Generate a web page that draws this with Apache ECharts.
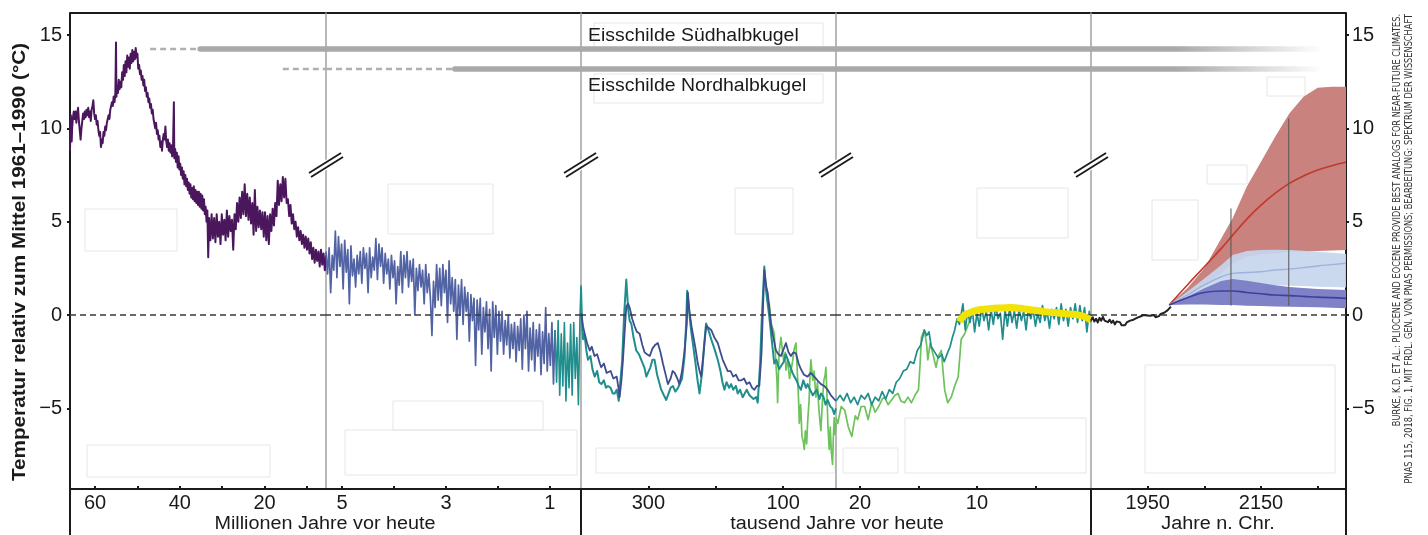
<!DOCTYPE html>
<html lang="de">
<head>
<meta charset="utf-8">
<title>Temperatur der Erde seit 66 Millionen Jahren</title>
<script src="https://cdn.jsdelivr.net/npm/echarts@6.0.0/dist/echarts.min.js"></script>
<style>
  html, body { margin: 0; padding: 0; background: #fff; }
  #chart { width: 1428px; height: 535px; }
</style>
</head>
<body>
<div id="chart"></div>
<script>
// ---- Achsen: fuenf Panels mit eigener Einheit (Ma, Ma, ka, ka, Jahr n. Chr.)
const sectionExtents = [[5.52, 65.9], [0.40, 5.31], [21.5, 400], [0.25, 22.05], [1850, 2300]];
const sectionTicks = [[60, 50, 40, 30, 20, 10], [5, 4, 3, 2, 1], [300, 200, 100], [20, 15, 10, 5], [1950, 2050, 2150, 2250]];
const sectionLabels = [[60, 40, 20], [5, 3, 1], [300, 100], [20, 10], [1950, 2150]];
const unitTitles = ['Millionen Jahre vor heute', 'tausend Jahre vor heute', 'Jahre n. Chr.'];
const tempTicks = [-5, 0, 5, 10, 15];
const tempRange = [-9.32, 16.18];

// ---- Eisschilde (Balken oben)
const iceNames = ['Eisschilde Südhalbkugel', 'Eisschilde Nordhalbkugel'];
const iceLevels = [14.25, 13.18];
const iceDashedFromMa = [47.0, 15.7];
const iceSolidFromMa = [35.2, 2.83];
const iceFadeYears = [2001, 2255];

// ---- Panel 1: 66 - 5,3 Ma  [Ma, °C]
const cenozoicPurple = [
  [65.9, 8.8], [65.8, 9.8], [65.7, 10.7], [65.6, 10.2], [65.5, 9.3], [65.4, 10.0], [65.2, 10.6], [65.0, 10.9],
  [64.8, 10.5], [64.6, 10.9], [64.4, 10.3], [64.2, 10.8], [64.0, 11.1], [63.8, 10.4], [63.6, 9.9], [63.4, 9.4],
  [63.2, 10.0], [63.0, 10.4], [62.8, 10.8], [62.6, 10.5], [62.4, 10.9], [62.2, 10.6], [62.0, 11.0], [61.8, 10.7],
  [61.6, 11.1], [61.4, 10.6], [61.2, 10.9], [61.0, 10.4], [60.8, 11.0], [60.6, 11.2], [60.4, 11.5], [60.2, 10.8],
  [60.0, 10.5], [59.8, 10.7], [59.6, 10.2], [59.4, 10.4], [59.2, 9.9], [59.0, 9.6], [58.8, 9.8], [58.6, 9.0],
  [58.4, 9.4], [58.2, 9.2], [58.0, 9.8], [57.8, 9.6], [57.6, 10.1], [57.4, 9.9], [57.2, 10.3], [57.0, 10.2],
  [56.8, 10.7], [56.6, 10.5], [56.4, 11.0], [56.2, 10.9], [56.0, 11.4], [55.8, 11.2], [55.6, 11.7], [55.4, 11.4],
  [55.2, 11.9], [55.05, 14.6], [54.95, 11.7], [54.8, 12.3], [54.6, 11.9], [54.4, 12.6], [54.2, 12.1], [54.0, 12.5],
  [53.8, 12.2], [53.6, 13.0], [53.4, 12.6], [53.2, 13.4], [53.0, 12.8], [52.8, 13.6], [52.6, 13.0], [52.4, 13.9],
  [52.2, 13.3], [52.0, 13.8], [51.8, 13.2], [51.6, 14.0], [51.4, 13.5], [51.2, 14.2], [51.0, 13.6], [50.8, 14.1],
  [50.6, 13.7], [50.4, 14.3], [50.2, 13.8], [50.0, 14.0], [49.8, 13.2], [49.6, 13.4], [49.4, 12.9], [49.2, 13.1],
  [49.0, 12.6], [48.8, 12.8], [48.6, 12.3], [48.4, 12.6], [48.2, 12.0], [48.0, 12.2], [47.8, 11.7], [47.6, 11.9],
  [47.4, 11.4], [47.2, 11.6], [47.0, 11.1], [46.8, 11.3], [46.6, 10.8], [46.4, 11.0], [46.2, 10.5], [46.0, 10.6],
  [45.8, 10.0], [45.6, 10.3], [45.4, 9.7], [45.2, 9.9], [45.0, 9.4], [44.8, 9.6], [44.6, 9.0], [44.4, 9.3],
  [44.2, 8.8], [44.0, 9.4], [43.8, 9.7], [43.6, 9.4], [43.4, 10.1], [43.2, 9.3], [43.0, 9.0], [42.8, 9.4],
  [42.6, 8.8], [42.4, 9.2], [42.2, 8.7], [42.0, 9.1], [41.8, 8.5], [41.6, 9.0], [41.4, 11.4], [41.3, 8.4],
  [41.1, 8.9], [40.9, 8.2], [40.7, 8.7], [40.5, 7.9], [40.3, 8.5], [40.1, 7.8], [39.9, 8.1], [39.7, 7.5],
  [39.5, 7.9], [39.3, 7.3], [39.1, 7.7], [38.9, 7.0], [38.7, 7.5], [38.5, 6.9], [38.3, 7.3], [38.1, 6.7],
  [37.9, 7.1], [37.7, 6.5], [37.5, 7.0], [37.3, 6.3], [37.1, 6.8], [36.9, 6.2], [36.7, 6.9], [36.5, 6.1],
  [36.3, 6.7], [36.1, 6.0], [35.9, 6.6], [35.7, 5.9], [35.5, 6.6], [35.3, 5.8], [35.1, 6.5], [34.9, 5.7],
  [34.7, 6.4], [34.5, 5.6], [34.3, 6.2], [34.1, 5.4], [33.9, 5.8], [33.7, 5.0], [33.5, 5.6], [33.3, 3.1],
  [33.1, 5.2], [32.8, 4.0], [32.5, 5.4], [32.2, 4.1], [31.9, 5.2], [31.6, 3.9], [31.3, 5.4], [31.0, 4.2],
  [30.7, 5.0], [30.4, 3.8], [30.1, 5.4], [29.8, 4.3], [29.5, 5.1], [29.2, 4.0], [28.9, 5.6], [28.6, 4.2],
  [28.3, 5.3], [28.0, 4.5], [27.7, 5.1], [27.4, 3.5], [27.1, 5.4], [26.8, 4.6], [26.5, 6.0], [26.2, 5.0],
  [25.9, 6.3], [25.6, 5.2], [25.3, 6.6], [25.0, 5.4], [24.7, 7.0], [24.4, 5.3], [24.1, 6.5], [23.8, 5.1],
  [23.5, 6.3], [23.2, 4.9], [22.9, 6.0], [22.6, 4.3], [22.3, 6.7], [22.0, 4.5], [21.7, 5.8], [21.4, 4.7],
  [21.1, 5.6], [20.8, 4.6], [20.5, 5.5], [20.2, 4.2], [19.9, 5.5], [19.6, 4.0], [19.3, 5.3], [19.0, 3.8],
  [18.7, 5.4], [18.4, 4.5], [18.1, 5.7], [17.8, 4.8], [17.5, 6.0], [17.2, 5.3], [16.9, 7.2], [16.6, 5.9],
  [16.3, 7.0], [16.0, 6.1], [15.7, 7.4], [15.4, 6.3], [15.1, 7.3], [14.8, 6.0], [14.5, 6.2], [14.2, 5.3],
  [13.9, 5.9], [13.6, 4.9], [13.3, 5.4], [13.0, 4.6], [12.7, 5.0], [12.4, 4.2], [12.1, 4.7], [11.8, 4.0],
  [11.5, 4.5], [11.2, 3.8], [10.9, 4.3], [10.6, 3.6], [10.3, 4.2], [10.0, 3.5], [9.7, 4.1], [9.4, 3.3],
  [9.1, 3.9], [8.8, 3.0], [8.5, 3.6], [8.2, 2.8], [7.9, 3.5], [7.6, 2.9], [7.3, 3.4], [7.0, 2.6],
  [6.7, 3.5], [6.4, 2.7], [6.1, 3.3], [5.8, 2.4], [5.5, 3.2]
];

// ---- Panel 2: 5,3 - 0,4 Ma  [Ma, °C]
const plioceneBlue = [
  [5.31, 3.4], [5.28, 2.2], [5.25, 3.6], [5.22, 1.2], [5.19, 3.2], [5.16, 2.4], [5.13, 4.5], [5.10, 2.0],
  [5.07, 4.2], [5.04, 2.6], [5.01, 3.8], [4.98, 1.4], [4.95, 4.0], [4.92, 2.3], [4.89, 3.5], [4.86, 0.6],
  [4.83, 3.7], [4.80, 2.1], [4.77, 3.0], [4.74, 1.5], [4.71, 3.2], [4.68, 2.2], [4.65, 3.4], [4.62, 1.7],
  [4.59, 3.6], [4.56, 2.5], [4.53, 3.3], [4.50, 1.2], [4.47, 3.6], [4.44, 2.0], [4.41, 3.1], [4.38, 2.4],
  [4.35, 4.1], [4.32, 1.9], [4.29, 3.8], [4.26, 2.6], [4.23, 3.6], [4.20, 1.7], [4.17, 3.3], [4.14, 2.2],
  [4.11, 3.0], [4.08, 1.4], [4.05, 3.2], [4.02, 2.0], [3.99, 2.9], [3.96, 0.6], [3.93, 2.6], [3.90, 1.6],
  [3.87, 3.4], [3.84, 1.2], [3.81, 3.2], [3.78, 2.0], [3.75, 3.4], [3.72, 1.5], [3.69, 2.9], [3.66, 1.8],
  [3.63, 3.0], [3.60, 0.0], [3.57, 2.5], [3.54, 1.3], [3.51, 2.7], [3.48, 1.5], [3.45, 2.4], [3.42, 0.6],
  [3.39, 2.7], [3.36, 1.2], [3.33, 2.2], [3.30, 0.9], [3.27, -1.1], [3.24, 1.8], [3.21, 0.4], [3.18, 2.7],
  [3.15, 0.8], [3.12, 2.5], [3.09, 0.5], [3.06, 2.7], [3.03, 1.2], [3.00, 2.4], [2.97, -0.4], [2.94, 2.9],
  [2.91, 0.6], [2.88, 2.0], [2.85, 0.2], [2.82, 1.9], [2.79, -1.3], [2.76, 1.6], [2.73, 0.0], [2.70, 1.9],
  [2.67, -0.5], [2.64, 1.5], [2.61, 0.2], [2.58, 1.2], [2.55, -1.4], [2.52, 1.1], [2.49, -0.3], [2.46, 0.9],
  [2.43, -2.7], [2.40, 0.8], [2.37, -0.8], [2.34, 0.9], [2.31, -2.1], [2.28, 0.4], [2.25, -0.9], [2.22, 0.7],
  [2.19, -1.8], [2.16, 0.3], [2.13, -3.0], [2.10, 0.7], [2.07, -1.2], [2.04, 0.5], [2.01, -2.1], [1.98, 0.2],
  [1.95, -1.4], [1.92, 0.2], [1.89, -2.1], [1.86, -0.3], [1.83, -1.6], [1.80, 0.0], [1.77, -2.3], [1.74, -0.5],
  [1.71, -1.8], [1.68, -0.4], [1.65, -2.5], [1.62, -0.6], [1.59, -1.9], [1.56, -0.2], [1.53, -2.9], [1.50, 0.0],
  [1.47, -1.8], [1.44, 0.2], [1.41, -3.0], [1.38, -0.7], [1.35, -2.4], [1.32, -0.4], [1.29, -3.0], [1.26, -0.8],
  [1.23, -2.2], [1.20, -0.5], [1.17, -3.2], [1.14, -0.9], [1.11, -2.6], [1.08, 0.4], [1.05, -3.0], [1.02, -1.0],
  [0.99, -2.7], [0.96, -0.4], [0.93, -3.7], [0.90, -0.8]
];
const pleistoceneTeal = [
  [0.90, -0.8], [0.87, -3.6], [0.84, -0.3], [0.81, -4.3], [0.78, -1.0], [0.75, -3.8], [0.72, -0.4], [0.69, -4.6],
  [0.66, -1.5], [0.63, -3.9], [0.60, -0.5], [0.57, -4.3], [0.54, -0.4], [0.51, -3.4], [0.48, -1.2], [0.45, -4.8],
  [0.42, -0.2], [0.40, 1.6]
];

// ---- Panel 3: 400 - 21,5 ka  [ka, °C]
const iceCoreBlue = [
  [399.5, 0.1], [397, -0.6], [394.5, -1.0], [391, -1.5], [387, -1.9], [384, -1.7], [380, -2.2], [376, -2.1],
  [372, -2.6], [370, -2.8], [366, -2.6], [362, -3.1], [360, -3.1], [356, -3.0], [352, -3.4], [350, -3.5],
  [347, -3.3], [344, -4.0], [342.7, -4.4], [340, -3.5], [337.7, -2.4], [335, -0.8], [332.8, 0.45], [330, 0.6],
  [327.8, 0.4], [324, -0.2], [320.4, -0.6], [317, -0.9], [313, -1.0], [309, -1.6], [305.6, -2.0], [302, -2.1],
  [298, -2.2], [294, -1.8], [290, -1.6], [286, -1.5], [282, -2.0], [278.4, -2.6], [275, -3.1], [271, -3.7],
  [267, -3.4], [264, -3.0], [261, -3.1], [257, -3.4], [254, -3.7], [250, -3.0], [246.3, -1.9], [243, -0.5],
  [241.4, 1.2], [239, 0.2], [236, -0.6], [234, -1.0], [230, -1.8], [226.6, -2.6], [224, -3.0], [221.7, -3.3],
  [218, -2.0], [214.3, -0.6], [210, -0.7], [206.8, -0.8], [202, -1.2], [197, -1.5], [193, -2.0], [189.6, -2.4],
  [186, -2.7], [182.2, -3.0], [178, -3.0], [174, -3.3], [170, -3.2], [166, -3.5], [162, -3.5], [158, -3.4],
  [154, -3.7], [150, -3.6], [146, -3.9], [142.7, -4.0], [139, -3.8], [135.3, -3.8], [132, -2.0], [130.3, -0.1],
  [127.9, 2.4], [125, 1.5], [122.9, 1.2], [120, 0.2], [118, -0.5], [114, -1.3], [110.6, -1.9], [107, -2.1],
  [103.2, -2.2], [99, -1.8], [95.8, -1.5], [92, -2.0], [88.4, -2.2], [85, -2.0], [81, -2.05], [77, -2.6],
  [73.6, -2.9], [69, -3.2], [63.7, -3.3], [59, -3.1], [53.8, -3.3], [49, -3.5], [43.9, -3.7], [39, -3.8],
  [34, -4.0], [29, -4.3], [24.2, -4.5], [21.5, -4.6]
];
const iceCoreTeal = [
  [400, 1.5], [399, 0.2], [398, -0.8], [397, -1.3], [395, -1.0], [392, -1.9], [389.6, -2.4], [386, -2.2],
  [383, -2.9], [379.7, -3.3], [376, -3.0], [373, -3.6], [369.8, -3.7], [366, -3.5], [363, -3.9], [360, -3.8],
  [356, -3.9], [353, -4.2], [350, -4.2], [347, -4.0], [344, -4.6], [342.7, -4.7], [339, -2.5], [336, 0.0],
  [332.8, 1.9], [330, 0.3], [327.8, -0.3], [325.4, -0.45], [322, -1.2], [318, -1.9], [314, -2.1], [310.6, -2.4],
  [306, -2.8], [303, -3.3], [300.7, -3.1], [297, -2.8], [294, -2.4], [290.8, -2.4], [287, -3.2], [284, -3.6],
  [280.9, -4.0], [277, -4.3], [273.5, -4.55], [270, -4.2], [267, -3.9], [263.6, -3.8], [260, -4.1], [256, -3.9],
  [253.7, -4.0], [250, -3.4], [246.3, -2.2], [244, -0.5], [242.4, 1.3], [239, 0.0], [236, -1.0], [234, -1.5],
  [230, -2.6], [227, -3.5], [224.1, -4.2], [220, -3.0], [217, -1.5], [214.3, -0.45], [210, -0.9], [206.8, -1.3],
  [202, -1.8], [197, -2.4], [193, -3.0], [190, -3.6], [187.1, -4.0], [184, -3.6], [180, -3.9], [177.2, -3.7],
  [174, -4.0], [170, -3.8], [167.4, -4.2], [164, -4.0], [160, -4.4], [157.5, -4.4], [154, -4.0], [150, -4.3],
  [147.6, -4.2], [144, -4.5], [140, -4.4], [137.7, -4.7], [134, -2.5], [132, -0.5], [130.3, 0.8], [127.9, 2.6],
  [125, 1.2], [120.5, -0.1], [117, -1.3], [113.1, -2.6], [110, -2.4], [106, -2.9], [103.2, -2.8], [99, -2.5],
  [96, -2.1], [93.3, -2.2], [90, -2.7], [86, -3.1], [83.4, -3.3], [80, -3.5], [77, -3.8], [73.6, -4.0],
  [70, -3.5], [66, -3.9], [63.7, -3.7], [60, -4.0], [56, -4.3], [53.8, -4.2], [50, -4.0], [46, -4.5],
  [43.9, -4.2], [40, -4.4], [37, -4.8], [34, -4.55], [30, -4.9], [27, -5.0], [24.2, -5.3], [21.5, -5.0]
];
const glacialGreen = [
  [125.4, 1.7], [123, 0.8], [120.5, 0.6], [118, -0.4], [115.5, -0.5], [113.1, -1.0], [111, -2.4], [109, -3.6],
  [108.2, -4.7], [106, -2.0], [103.2, -1.2], [101, -1.9], [99, -2.5], [97, -2.0], [95.8, -2.95], [93, -2.4],
  [90.5, -3.4], [88.4, -3.3], [86, -2.5], [83.5, -1.8], [81, -1.5], [79, -3.0], [77, -4.6], [76, -5.8],
  [74, -4.8], [72, -6.5], [70, -6.8], [68.6, -7.2], [67, -6.2], [65, -6.9], [63.7, -5.8], [61.5, -4.6],
  [60, -3.2], [58.8, -2.4], [56, -3.5], [54, -3.0], [51.3, -4.4], [49, -3.6], [47, -5.0], [45, -5.8],
  [43.9, -6.2], [41.5, -4.5], [39.5, -3.5], [37.5, -3.2], [36.5, -2.8], [35, -4.2], [33.5, -5.9], [31.6, -7.2],
  [30, -6.0], [28.5, -7.3], [26.6, -8.0], [25.5, -6.6], [24.2, -5.5], [23, -6.4], [21.5, -5.8]
];

// ---- Panel 4: 22 - 0,25 ka  [ka, °C]
const deglacialTeal = [
  [22.05, -4.6], [21.7, -4.3], [21.4, -4.6], [21.1, -4.2], [20.8, -4.7], [20.5, -4.4], [20.2, -4.8], [19.9, -4.3],
  [19.6, -4.5], [19.3, -4.2], [19.0, -4.8], [18.7, -4.4], [18.4, -4.6], [18.1, -4.1], [17.8, -4.5], [17.5, -4.0],
  [17.2, -4.2], [16.9, -3.6], [16.6, -3.4], [16.3, -3.0], [16.0, -2.9], [15.7, -2.5], [15.4, -2.6], [15.1, -1.9],
  [14.8, -1.6], [14.5, -0.8], [14.3, -1.1], [14.1, -0.9], [13.9, -1.7], [13.6, -2.0], [13.3, -2.3], [13.0, -2.1],
  [12.8, -2.5], [12.5, -2.0], [12.3, -1.7], [12.1, -1.2], [11.9, -0.8], [11.7, -0.2], [11.5, -0.5],
  [11.4, -0.5], [11.2, 0.6], [11.0, -0.8], [10.8, 0.2], [10.6, -0.4], [10.4, 0.3], [10.2, -0.9], [10.0, 0.1],
  [9.8, -0.6], [9.6, 0.4], [9.4, -0.3], [9.2, 0.2], [9.0, -0.8], [8.8, 0.3], [8.6, -0.5], [8.4, 0.5],
  [8.2, -0.2], [8.0, 0.1], [7.8, -1.3], [7.6, 0.3], [7.4, -0.6], [7.2, 0.4], [7.0, -0.4], [6.8, 0.2],
  [6.6, -0.7], [6.4, 0.3], [6.2, -0.3], [6.0, 0.2], [5.8, -0.8], [5.6, 0.4], [5.4, -0.2], [5.2, 0.3],
  [5.0, -0.6], [4.8, 0.1], [4.6, -0.4], [4.4, 0.5], [4.2, -0.3], [4.0, 0.2], [3.8, -0.7], [3.6, 0.3],
  [3.4, -0.2], [3.2, 0.4], [3.0, -0.5], [2.8, 0.6], [2.6, -0.3], [2.4, 0.3], [2.2, -0.6], [2.0, 0.4],
  [1.8, -0.2], [1.6, 0.6], [1.4, -0.4], [1.2, 0.5], [1.0, -0.3], [0.8, 0.4], [0.6, -0.9], [0.4, 0.2],
  [0.25, -0.4]
];
const deglacialGreen = [
  [22.05, -5.5], [21.9, -5.8], [21.6, -4.9], [21.3, -5.1], [21.0, -6.0], [20.7, -6.5], [20.4, -5.4], [20.2, -5.6],
  [19.9, -4.9], [19.6, -4.9], [19.3, -5.6], [19.0, -4.7], [18.7, -5.2], [18.4, -4.9], [18.1, -4.5], [17.9, -4.4],
  [17.6, -4.8], [17.3, -4.55], [17.0, -4.3], [16.75, -4.2], [16.5, -4.6], [16.2, -4.7], [15.9, -4.4], [15.6, -4.7],
  [15.3, -4.3], [15.0, -4.0], [14.85, -2.5], [14.75, -1.2], [14.5, -0.8], [14.3, -1.6], [14.2, -2.4], [14.0, -1.5],
  [13.8, -2.0], [13.5, -2.8], [13.3, -2.2], [13.05, -1.9], [12.9, -3.0], [12.76, -4.0], [12.5, -4.7], [12.2, -4.4],
  [11.9, -3.8], [11.6, -3.3], [11.35, -1.3], [11.05, -1.0], [10.8, -0.6], [10.5, -0.1]
];
const holoceneYellow = [
  [11.5, -0.36], [11.05, 0.0], [10.5, 0.15], [9.9, 0.27], [9.2, 0.32], [8.5, 0.36], [7.8, 0.38], [7.06, 0.4],
  [6.3, 0.36], [5.64, 0.3], [4.9, 0.24], [4.21, 0.18], [3.5, 0.13], [2.79, 0.09], [1.93, 0.05], [1.37, 0.0],
  [0.79, -0.09], [0.25, -0.27]
];

// ---- Panel 5: 1850 - 2300  [Jahr, °C]
const instrumentalBlack = [
  [1850, -0.3], [1853, -0.12], [1856, -0.35], [1859, -0.2], [1862, -0.4], [1865, -0.15], [1868, -0.3], [1871, -0.1],
  [1874, -0.3], [1877, -0.2], [1880, -0.38], [1883, -0.25], [1886, -0.42], [1889, -0.3], [1892, -0.5], [1895, -0.35],
  [1898, -0.45], [1901, -0.38], [1904, -0.55], [1907, -0.45], [1910, -0.55], [1913, -0.4], [1916, -0.48], [1919, -0.3],
  [1922, -0.38], [1925, -0.25], [1928, -0.3], [1931, -0.15], [1934, -0.22], [1937, -0.08], [1940, -0.12], [1943, 0.0],
  [1946, -0.1], [1949, -0.02], [1952, -0.12], [1955, -0.04], [1958, -0.1], [1961, 0.0], [1964, -0.12], [1967, -0.02],
  [1970, -0.06], [1973, 0.06], [1976, -0.02], [1979, 0.12], [1982, 0.1], [1985, 0.25], [1988, 0.3], [1991, 0.45]
];
const projYears = [1988, 2020, 2050, 2080, 2100, 2125, 2150, 2175, 2200, 2225, 2250, 2275, 2300];
const highUpper = [0.54, 1.43, 2.50, 4.11, 5.18, 6.88, 8.21, 9.55, 10.80, 11.70, 12.18, 12.23, 12.23];
const highLower = [0.54, 1.07, 1.61, 2.23, 2.77, 3.12, 3.25, 3.30, 3.39, 3.39, 3.43, 3.46, 3.48];
const highMedian = [0.54, 1.61, 2.59, 3.57, 4.28, 5.14, 5.89, 6.52, 7.05, 7.45, 7.77, 8.00, 8.18];
const midUpper = [0.54, 1.25, 1.96, 2.68, 3.21, 3.43, 3.48, 3.50, 3.48, 3.45, 3.39, 3.34, 3.28];
const midLower = [0.54, 0.80, 1.25, 1.61, 1.70, 1.64, 1.61, 1.61, 1.57, 1.55, 1.52, 1.50, 1.48];
const midMedian = [0.54, 1.07, 1.61, 2.05, 2.23, 2.28, 2.32, 2.41, 2.46, 2.54, 2.63, 2.70, 2.77];
const lowUpper = [0.54, 0.98, 1.43, 1.82, 1.93, 1.84, 1.72, 1.60, 1.50, 1.45, 1.40, 1.37, 1.34];
const lowLower = [0.54, 0.57, 0.57, 0.54, 0.54, 0.50, 0.48, 0.46, 0.45, 0.43, 0.41, 0.39, 0.36];
const lowMedian = [0.54, 0.93, 1.21, 1.29, 1.29, 1.21, 1.14, 1.07, 1.04, 1.00, 0.96, 0.93, 0.89];
const markerYears = [2097, 2199];
const markerTops = [5.71, 10.53];
const markerBottom = 0.5;

// ---------------------------------------------------------------
const FONT = "'Liberation Sans', Arial, Helvetica, sans-serif";
const edges = [70, 326, 581, 836, 1091, 1346];
const plotTop = 13, plotBottom = 489;

const chart = echarts.init(document.getElementById('chart'));

const fmtTemp = v => (v < 0 ? '\u2212' + Math.abs(v) : String(v));

const grids = sectionExtents.map((_, i) => ({
  left: edges[i], width: edges[i + 1] - edges[i], top: plotTop, height: plotBottom - plotTop
}));

const xAxes = sectionExtents.map((ext, i) => ({
  type: 'value', gridIndex: i, min: ext[0], max: ext[1], inverse: i < 4,
  axisLine: { show: true, onZero: false, lineStyle: { color: '#1a1a1a', width: 2 } },
  axisTick: { show: true, inside: true, length: 3, customValues: sectionTicks[i], lineStyle: { color: '#1a1a1a', width: 2 } },
  axisLabel: { customValues: sectionLabels[i], formatter: v => String(v), color: '#1a1a1a', fontSize: 20, fontFamily: FONT, margin: 4 },
  splitLine: { show: false }
}));

const yAxes = sectionExtents.map((_, i) => {
  const outer = i === 0 || i === 4;
  return {
    type: 'value', gridIndex: i, min: tempRange[0], max: tempRange[1], position: i === 4 ? 'right' : 'left',
    axisLine: { show: true, onZero: false, lineStyle: { color: outer ? '#1a1a1a' : '#a0a0a0', width: outer ? 2 : 1.5 } },
    axisTick: { show: outer, length: 3, customValues: tempTicks, lineStyle: { color: '#1a1a1a', width: 2 } },
    axisLabel: { show: outer, customValues: tempTicks, formatter: fmtTemp, color: '#1a1a1a', fontSize: 20, fontFamily: FONT, margin: i === 0 ? 8 : 6 },
    splitLine: { show: false }
  };
});
// Trennlinie links vom letzten Panel
yAxes.push({
  type: 'value', gridIndex: 4, min: tempRange[0], max: tempRange[1], position: 'left',
  axisLine: { show: true, onZero: false, lineStyle: { color: '#a0a0a0', width: 1.5 } },
  axisTick: { show: false }, axisLabel: { show: false }, splitLine: { show: false }
});

function line(data, panel, color, width, z, extra) {
  return Object.assign({
    type: 'line', data, xAxisIndex: panel, yAxisIndex: panel, symbol: 'none', silent: true, z,
    lineStyle: { color, width, join: 'round' }
  }, extra || {});
}

const series = [];

// Nulllinie
sectionExtents.forEach((ext, i) => {
  series.push(line([[ext[0], 0], [ext[1], 0]], i, '#3a3a3a', 1.6, 4, {
    lineStyle: { color: '#3a3a3a', width: 1.6, type: [6, 4] }
  }));
});

// Eisschilde
function maPiece(from, to, panel, level) {
  const [lo, hi] = sectionExtents[panel];
  const a = Math.min(from, hi), b = Math.max(to, lo);
  return a > b ? [[a, level], [b, level]] : null;
}
iceLevels.forEach((lvl, k) => {
  [0, 1].forEach(p => {
    const dashed = maPiece(iceDashedFromMa[k], iceSolidFromMa[k], p, lvl);
    if (dashed) series.push(line(dashed, p, '#b4b4b4', 2.5, 1, { lineStyle: { color: '#b0b0b0', width: 2.5, type: [6, 4] } }));
    const solid = maPiece(iceSolidFromMa[k], 0, p, lvl);
    if (solid) series.push(line(solid, p, '#a9a9a9', 5.5, 1, {
      lineStyle: { color: '#a9a9a9', width: 5.5, cap: solid[0][0] === iceSolidFromMa[k] ? 'round' : 'butt' }
    }));
  });
  [2, 3].forEach(p => {
    const ext = sectionExtents[p];
    series.push(line([[ext[1], lvl], [ext[0], lvl]], p, '#a9a9a9', 5.5, 1));
  });
  const span = iceFadeYears[1] - sectionExtents[4][0];
  const f = (iceFadeYears[0] - sectionExtents[4][0]) / span;
  series.push(line([[sectionExtents[4][0], lvl], [iceFadeYears[1], lvl]], 4, null, 5.5, 1, {
    lineStyle: {
      width: 5.5,
      color: new echarts.graphic.LinearGradient(0, 0, 1, 0, [
        { offset: 0, color: 'rgba(169,169,169,1)' },
        { offset: f, color: 'rgba(169,169,169,1)' },
        { offset: 1, color: 'rgba(169,169,169,0)' }
      ])
    }
  }));
});

// Temperaturkurven
series.push(line(cenozoicPurple, 0, '#4a175c', 2, 2));
series.push(line(plioceneBlue, 1, '#5263a4', 1.7, 2));
series.push(line(pleistoceneTeal, 1, '#1f8e8c', 1.6, 2));
series.push(line(glacialGreen, 2, '#6dc25b', 1.7, 2));
series.push(line(iceCoreTeal, 2, '#1f8e8c', 2, 3));
series.push(line(iceCoreBlue, 2, '#3d4d8e', 1.8, 3));
series.push(line(deglacialGreen, 3, '#6dc25b', 1.7, 2));
series.push(line(deglacialTeal, 3, '#1f8e8c', 1.7, 3));
series.push(line(holoceneYellow, 3, '#f2e205', 7, 5, { smooth: true }));
series.push(line(instrumentalBlack, 4, '#222222', 2, 5));

// Projektionen
function bandSeries(lower, upper, color, z, opacity) {
  return {
    type: 'custom', xAxisIndex: 4, yAxisIndex: 4, z, silent: true,
    data: [[projYears[0], lower[0]]],
    renderItem: function (params, api) {
      const top = projYears.map((yr, k) => api.coord([yr, upper[k]]));
      const bottom = projYears.map((yr, k) => api.coord([yr, lower[k]])).reverse();
      return { type: 'polygon', shape: { points: top.concat(bottom) }, style: { fill: color, opacity: opacity } };
    }
  };
}
const pairs = arr => projYears.map((yr, k) => [yr, arr[k]]);
series.push(bandSeries(highLower, highUpper, '#c9827d', 2, 1));
series.push(line(pairs(highMedian), 4, '#c0392e', 1.6, 3, { smooth: true }));
series.push(bandSeries(midLower, midUpper, '#c7d6ee', 4, 0.92));
series.push(line(pairs(midMedian), 4, '#9db2dc', 1.4, 5, { smooth: true }));
series.push(bandSeries(lowLower, lowUpper, '#7f82c6', 6, 1));
series.push(line(pairs(lowMedian), 4, '#3e3fa0', 1.6, 7, { smooth: true }));
markerYears.forEach((yr, k) => {
  series.push(line([[yr, markerTops[k]], [yr, markerBottom]], 4, '#555555', 1, 8));
});

// ---- Gestaltung (Rahmen, Texte, Bruchzeichen)
const graphic = [];
graphic.push({ type: 'line', shape: { x1: edges[0], y1: plotTop, x2: edges[5], y2: plotTop }, style: { stroke: '#1a1a1a', lineWidth: 1.8 }, silent: true });
[edges[0], edges[2], edges[4], edges[5]].forEach(x => {
  graphic.push({ type: 'line', shape: { x1: x, y1: plotBottom, x2: x, y2: 535 }, style: { stroke: '#1a1a1a', lineWidth: 2 }, silent: true });
});
// ehemalige Beschriftungsfelder (blasse Kaesten)
[[85, 209, 92, 42], [87, 445, 183, 32], [388, 184, 105, 50], [345, 430, 232, 45], [393, 401, 150, 29],
 [735, 188, 58, 46], [977, 188, 91, 50], [594, 23, 229, 25], [594, 74, 229, 29],
 [596, 448, 239, 25], [843, 448, 55, 25], [905, 418, 181, 55], [1145, 365, 190, 108],
 [1267, 77, 38, 19], [1207, 165, 40, 19], [1152, 200, 46, 60]].forEach(r => {
  graphic.push({ type: 'rect', z: -1, shape: { x: r[0], y: r[1], width: r[2], height: r[3] }, style: { fill: 'none', stroke: '#e6e6e6', lineWidth: 1 }, silent: true });
});
// Bruchzeichen //
[edges[1], edges[2], edges[3], edges[4]].forEach(cx => {
  const cy = 165;
  graphic.push({ type: 'line', z: 100, shape: { x1: cx - 18, y1: cy + 11, x2: cx + 18, y2: cy - 11 }, style: { stroke: '#ffffff', lineWidth: 9 }, silent: true });
  graphic.push({ type: 'line', z: 101, shape: { x1: cx - 17, y1: cy + 8, x2: cx + 15, y2: cy - 12 }, style: { stroke: '#1a1a1a', lineWidth: 1.8 }, silent: true });
  graphic.push({ type: 'line', z: 101, shape: { x1: cx - 15, y1: cy + 12, x2: cx + 17, y2: cy - 8 }, style: { stroke: '#1a1a1a', lineWidth: 1.8 }, silent: true });
});
// Eisschilde-Beschriftung
graphic.push({ type: 'text', z: 50, x: 588, y: 36, scaleX: 1.08, style: { text: iceNames[0], fill: '#1a1a1a', font: '18px ' + FONT, verticalAlign: 'middle' }, silent: true });
graphic.push({ type: 'text', z: 50, x: 588, y: 86, scaleX: 1.08, style: { text: iceNames[1], fill: '#1a1a1a', font: '18px ' + FONT, verticalAlign: 'middle' }, silent: true });
// Einheiten unter der Achse
[[325, unitTitles[0]], [837, unitTitles[1]], [1218, unitTitles[2]]].forEach(([cx, t]) => {
  graphic.push({ type: 'text', x: cx, y: 524, scaleX: 1.1, style: { text: t, fill: '#1a1a1a', font: '18px ' + FONT, align: 'center', verticalAlign: 'middle' }, silent: true });
});
// Achsentitel
graphic.push({ type: 'text', x: 20, y: 262, rotation: Math.PI / 2, scaleX: 1.15, style: {
  text: 'Temperatur relativ zum Mittel 1961–1990 (°C)', fill: '#1a1a1a', font: 'bold 18px ' + FONT, align: 'center', verticalAlign: 'middle'
}, silent: true });
// Quellenangabe
const narrow = "'Liberation Sans Narrow', 'DejaVu Sans Condensed', sans-serif";
graphic.push({ type: 'text', x: 1397, y: 14, rotation: Math.PI / 2, scaleX: 0.87, style: {
  text: 'BURKE, K.D. ET AL.: PLIOCENE AND EOCENE PROVIDE BEST ANALOGS FOR NEAR-FUTURE CLIMATES.',
  fill: '#333', font: '10.5px ' + narrow, align: 'right', verticalAlign: 'middle'
}, silent: true });
graphic.push({ type: 'text', x: 1409, y: 14, rotation: Math.PI / 2, scaleX: 0.87, style: {
  text: 'PNAS 115, 2018, FIG. 1, MIT FRDL. GEN. VON PNAS PERMISSIONS; BEARBEITUNG: SPEKTRUM DER WISSENSCHAFT',
  fill: '#333', font: '10.5px ' + narrow, align: 'right', verticalAlign: 'middle'
}, silent: true });

chart.setOption({
  animation: false,
  backgroundColor: '#ffffff',
  textStyle: { fontFamily: FONT },
  grid: grids,
  xAxis: xAxes,
  yAxis: yAxes,
  series: series,
  graphic: graphic
});
</script>
</body>
</html>
